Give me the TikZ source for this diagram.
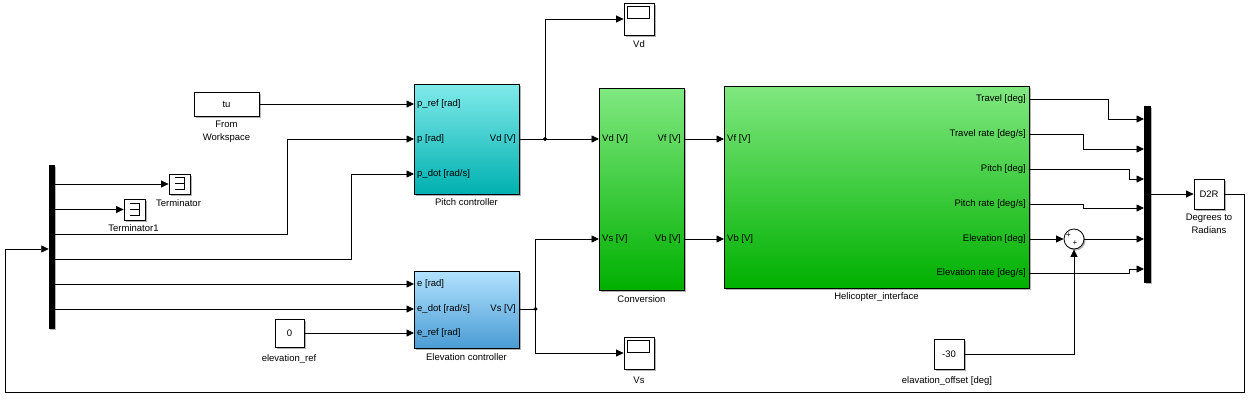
\documentclass[tikz,border=0pt]{standalone}
\usepackage{fontspec}
\setmainfont{Liberation Sans}
\usetikzlibrary{arrows.meta,shadows,calc}
\begin{document}
\begin{tikzpicture}[x=1pt,y=-1pt,
  every node/.style={font=\fontsize{9.5}{11}\selectfont, inner sep=0pt},
  blk/.style={draw, line width=0.8pt, drop shadow={shadow xshift=1.5pt, shadow yshift=-1.5pt, opacity=0.3, fill=black}},
  plain/.style={blk, fill=white},
  bar/.style={fill=black, draw=black, drop shadow={shadow xshift=1.5pt, shadow yshift=-1.5pt, opacity=0.3, fill=black}},
  sig/.style={line width=0.8pt, -{Triangle[length=7.5pt,width=7pt]}},
  wire/.style={line width=0.8pt},
  dot/.style={circle, fill=black, draw=black, minimum size=3.5pt},
  pin/.style={anchor=west},
  pout/.style={anchor=east},
  lab/.style={anchor=center}
]
\useasboundingbox (0,0) rectangle (1258,407);

% ---------- blocks ----------
\node[bar, minimum width=5.5pt, minimum height=163pt] (dm) at (51.5,246.5) {};
\node[plain, minimum width=21pt, minimum height=20pt] (term) at (179.5,184) {};
\node[plain, minimum width=21pt, minimum height=21pt] (term1) at (134.5,209.5) {};
\node[plain, minimum width=65pt, minimum height=24pt] (fw) at (226.5,104) {tu};
\node[blk, top color={rgb,255:red,128;green,234;blue,234}, bottom color={rgb,255:red,0;green,176;blue,176}, minimum width=105pt, minimum height=110pt] (pc) at (466.5,139) {};
\node[blk, top color={rgb,255:red,178;green,226;blue,255}, bottom color={rgb,255:red,74;green,156;blue,212}, minimum width=105pt, minimum height=77pt] (ec) at (466.5,309.5) {};
\node[plain, minimum width=29pt, minimum height=28pt] (c0) at (289.5,333) {0};
\node[blk, top color={rgb,255:red,128;green,232;blue,128}, bottom color={rgb,255:red,0;green,176;blue,0}, minimum width=85pt, minimum height=202pt] (conv) at (641.5,189) {};
\node[blk, top color={rgb,255:red,128;green,232;blue,128}, bottom color={rgb,255:red,0;green,176;blue,0}, minimum width=305pt, minimum height=202pt] (heli) at (876.5,187) {};
\node[plain, minimum width=30pt, minimum height=32pt] (vd) at (639,19) {};
\node[plain, minimum width=30pt, minimum height=32pt] (vs) at (639,353) {};
\node[bar, minimum width=6pt, minimum height=176pt] (mx) at (1147,194) {};
\node[plain, minimum width=30pt, minimum height=30pt] (d2r) at (1209,194) {D2R};
\node[plain, minimum width=30pt, minimum height=30pt] (c30) at (949,354) {-30};
\node[draw, circle, fill=white, line width=0.8pt, minimum size=20pt, drop shadow={shadow xshift=1.5pt, shadow yshift=-1.5pt, opacity=0.3, fill=black}] (sum) at (1074,239) {};
\node[font=\fontsize{8}{9}\selectfont] (sp1) at (1068.5,235.5) {+};
\node[font=\fontsize{8}{9}\selectfont] (sp2) at (1075,243.5) {+};

% terminator symbols
\draw[wire, line width=0.7pt] ($(term.north west)+(6,4)$) -- ++(9.5,0) -- ++(0,12) -- ++(-9.5,0) ($(term.north west)+(6,10)$) -- ++(9.5,0);
\draw[wire, line width=0.7pt] ($(term1.north west)+(6,4.5)$) -- ++(9.5,0) -- ++(0,12) -- ++(-9.5,0) ($(term1.north west)+(6,10.5)$) -- ++(9.5,0);
% scope screens
\draw[line width=0.7pt] ($(vd.north west)+(4,4)$) rectangle ($(vd.north west)+(26,16)$);
\draw[line width=0.7pt] ($(vs.north west)+(4,4)$) rectangle ($(vs.north west)+(26,16)$);

% ---------- labels ----------
\node[lab] (termlab) at (178.5,203) {Terminator};
\node[lab] (term1lab) at (133.5,228) {Terminator1};
\node[lab, align=center] (fwlab) at (226.5,131.5) {From\\[1.5pt]Workspace};
\node[lab] (pclab) at (466.5,202) {Pitch controller};
\node[lab] (eclab) at (466.5,357) {Elevation controller};
\node[lab] (c0lab) at (289,359) {elevation\_ref};
\node[lab] (convlab) at (641.5,299) {Conversion};
\node[lab] (helilab) at (876.5,297) {Helicopter\_interface};
\node[lab] (vdlab) at (639,44) {Vd};
\node[lab] (vslab) at (639,380) {Vs};
\node[lab, align=center] (d2rlab) at (1209,224) {Degrees to\\[1.5pt]Radians};
\node[lab] (c30lab) at (947,381) {elavation\_offset [deg]};

% port labels
\node[pin] (pcp1) at (417,104) {p\_ref [rad]};
\node[pin] (pcp2) at (417,139) {p [rad]};
\node[pin] (pcp3) at (417,174) {p\_dot [rad/s]};
\node[pout] (pcq1) at (516,139) {Vd [V]};
\node[pin] (ecp1) at (417,284) {e [rad]};
\node[pin] (ecp2) at (417,309) {e\_dot [rad/s]};
\node[pin] (ecp3) at (417,333) {e\_ref [rad]};
\node[pout] (ecq1) at (516,309) {Vs [V]};
\node[pin] (cvp1) at (602,139) {Vd [V]};
\node[pin] (cvp2) at (602,239) {Vs [V]};
\node[pout] (cvq1) at (681,139) {Vf [V]};
\node[pout] (cvq2) at (681,239) {Vb [V]};
\node[pin] (hp1) at (727,139) {Vf [V]};
\node[pin] (hp2) at (727,239) {Vb [V]};
\node[pout] (hq1) at (1026,99) {Travel [deg]};
\node[pout] (hq2) at (1026,134) {Travel rate [deg/s]};
\node[pout] (hq3) at (1026,169) {Pitch [deg]};
\node[pout] (hq4) at (1026,204) {Pitch rate [deg/s]};
\node[pout] (hq5) at (1026,239) {Elevation [deg]};
\node[pout] (hq6) at (1026,273) {Elevation rate [deg/s]};

% ---------- port coordinates ----------
\coordinate (dmo1) at (54.25,184);
\coordinate (dmo2) at (54.25,209.5);
\coordinate (dmo3) at (54.25,234);
\coordinate (dmo4) at (54.25,259);
\coordinate (dmo5) at (54.25,284);
\coordinate (dmo6) at (54.25,309);
\coordinate (dmi) at (48.75,249);
\coordinate (pci1) at (414,104);
\coordinate (pci2) at (414,139);
\coordinate (pci3) at (414,174);
\coordinate (pco) at (519,139);
\coordinate (eci1) at (414,284);
\coordinate (eci2) at (414,309);
\coordinate (eci3) at (414,333);
\coordinate (eco) at (519,309);
\coordinate (cvi1) at (599,139);
\coordinate (cvi2) at (599,239);
\coordinate (cvo1) at (684,139);
\coordinate (cvo2) at (684,239);
\coordinate (hi1) at (724,139);
\coordinate (hi2) at (724,239);
\coordinate (ho1) at (1029,99);
\coordinate (ho2) at (1029,134);
\coordinate (ho3) at (1029,169);
\coordinate (ho4) at (1029,204);
\coordinate (ho5) at (1029,239);
\coordinate (ho6) at (1029,273);
\coordinate (mi1) at (1144,119);
\coordinate (mi2) at (1144,149);
\coordinate (mi3) at (1144,179);
\coordinate (mi4) at (1144,208);
\coordinate (mi5) at (1144,239);
\coordinate (mi6) at (1144,269);
\coordinate (mo) at (1150,194);
\coordinate (j1) at (545,139);
\coordinate (j2) at (535.5,309);

% ---------- connectors ----------
\draw[sig] (dmo1) -- (term.west);
\draw[sig] (dmo2) -- (term1.west);
\draw[sig] (dmo3) -| (287,139) -- (pci2);
\draw[sig] (dmo4) -| (351,174) -- (pci3);
\draw[sig] (dmo5) -- (eci1);
\draw[sig] (dmo6) -- (eci2);
\draw[sig] (fw.east) -- (pci1);
\draw[sig] (c0.east) -- (eci3);
\draw[wire] (pco) -- (j1);
\draw[sig] (j1) -- (cvi1);
\draw[sig] (j1) |- (vd.west);
\draw[wire] (eco) -- (j2);
\draw[sig] (j2) |- (cvi2);
\draw[sig] (j2) |- (vs.west);
\draw[sig] (cvo1) -- (hi1);
\draw[sig] (cvo2) -- (hi2);
\draw[sig] (ho1) -| (1108,119) -- (mi1);
\draw[sig] (ho2) -| (1083,149) -- (mi2);
\draw[sig] (ho3) -| (1129,179) -- (mi3);
\draw[sig] (ho4) -| (1083,208) -- (mi4);
\draw[sig] (ho5) -- (sum.west);
\draw[sig] (sum.east) -- (mi5);
\draw[sig] (ho6) -| (1129,269) -- (mi6);
\draw[sig] (c30.east) -| (sum.south);
\draw[sig] (mo) -- (d2r.west);
\draw[sig] (d2r.east) -| (1244,392) -| (5,249) -- (dmi);
\node[dot] (j1dot) at (j1) {};
\node[dot] (j2dot) at (j2) {};
\end{tikzpicture}
\end{document}
